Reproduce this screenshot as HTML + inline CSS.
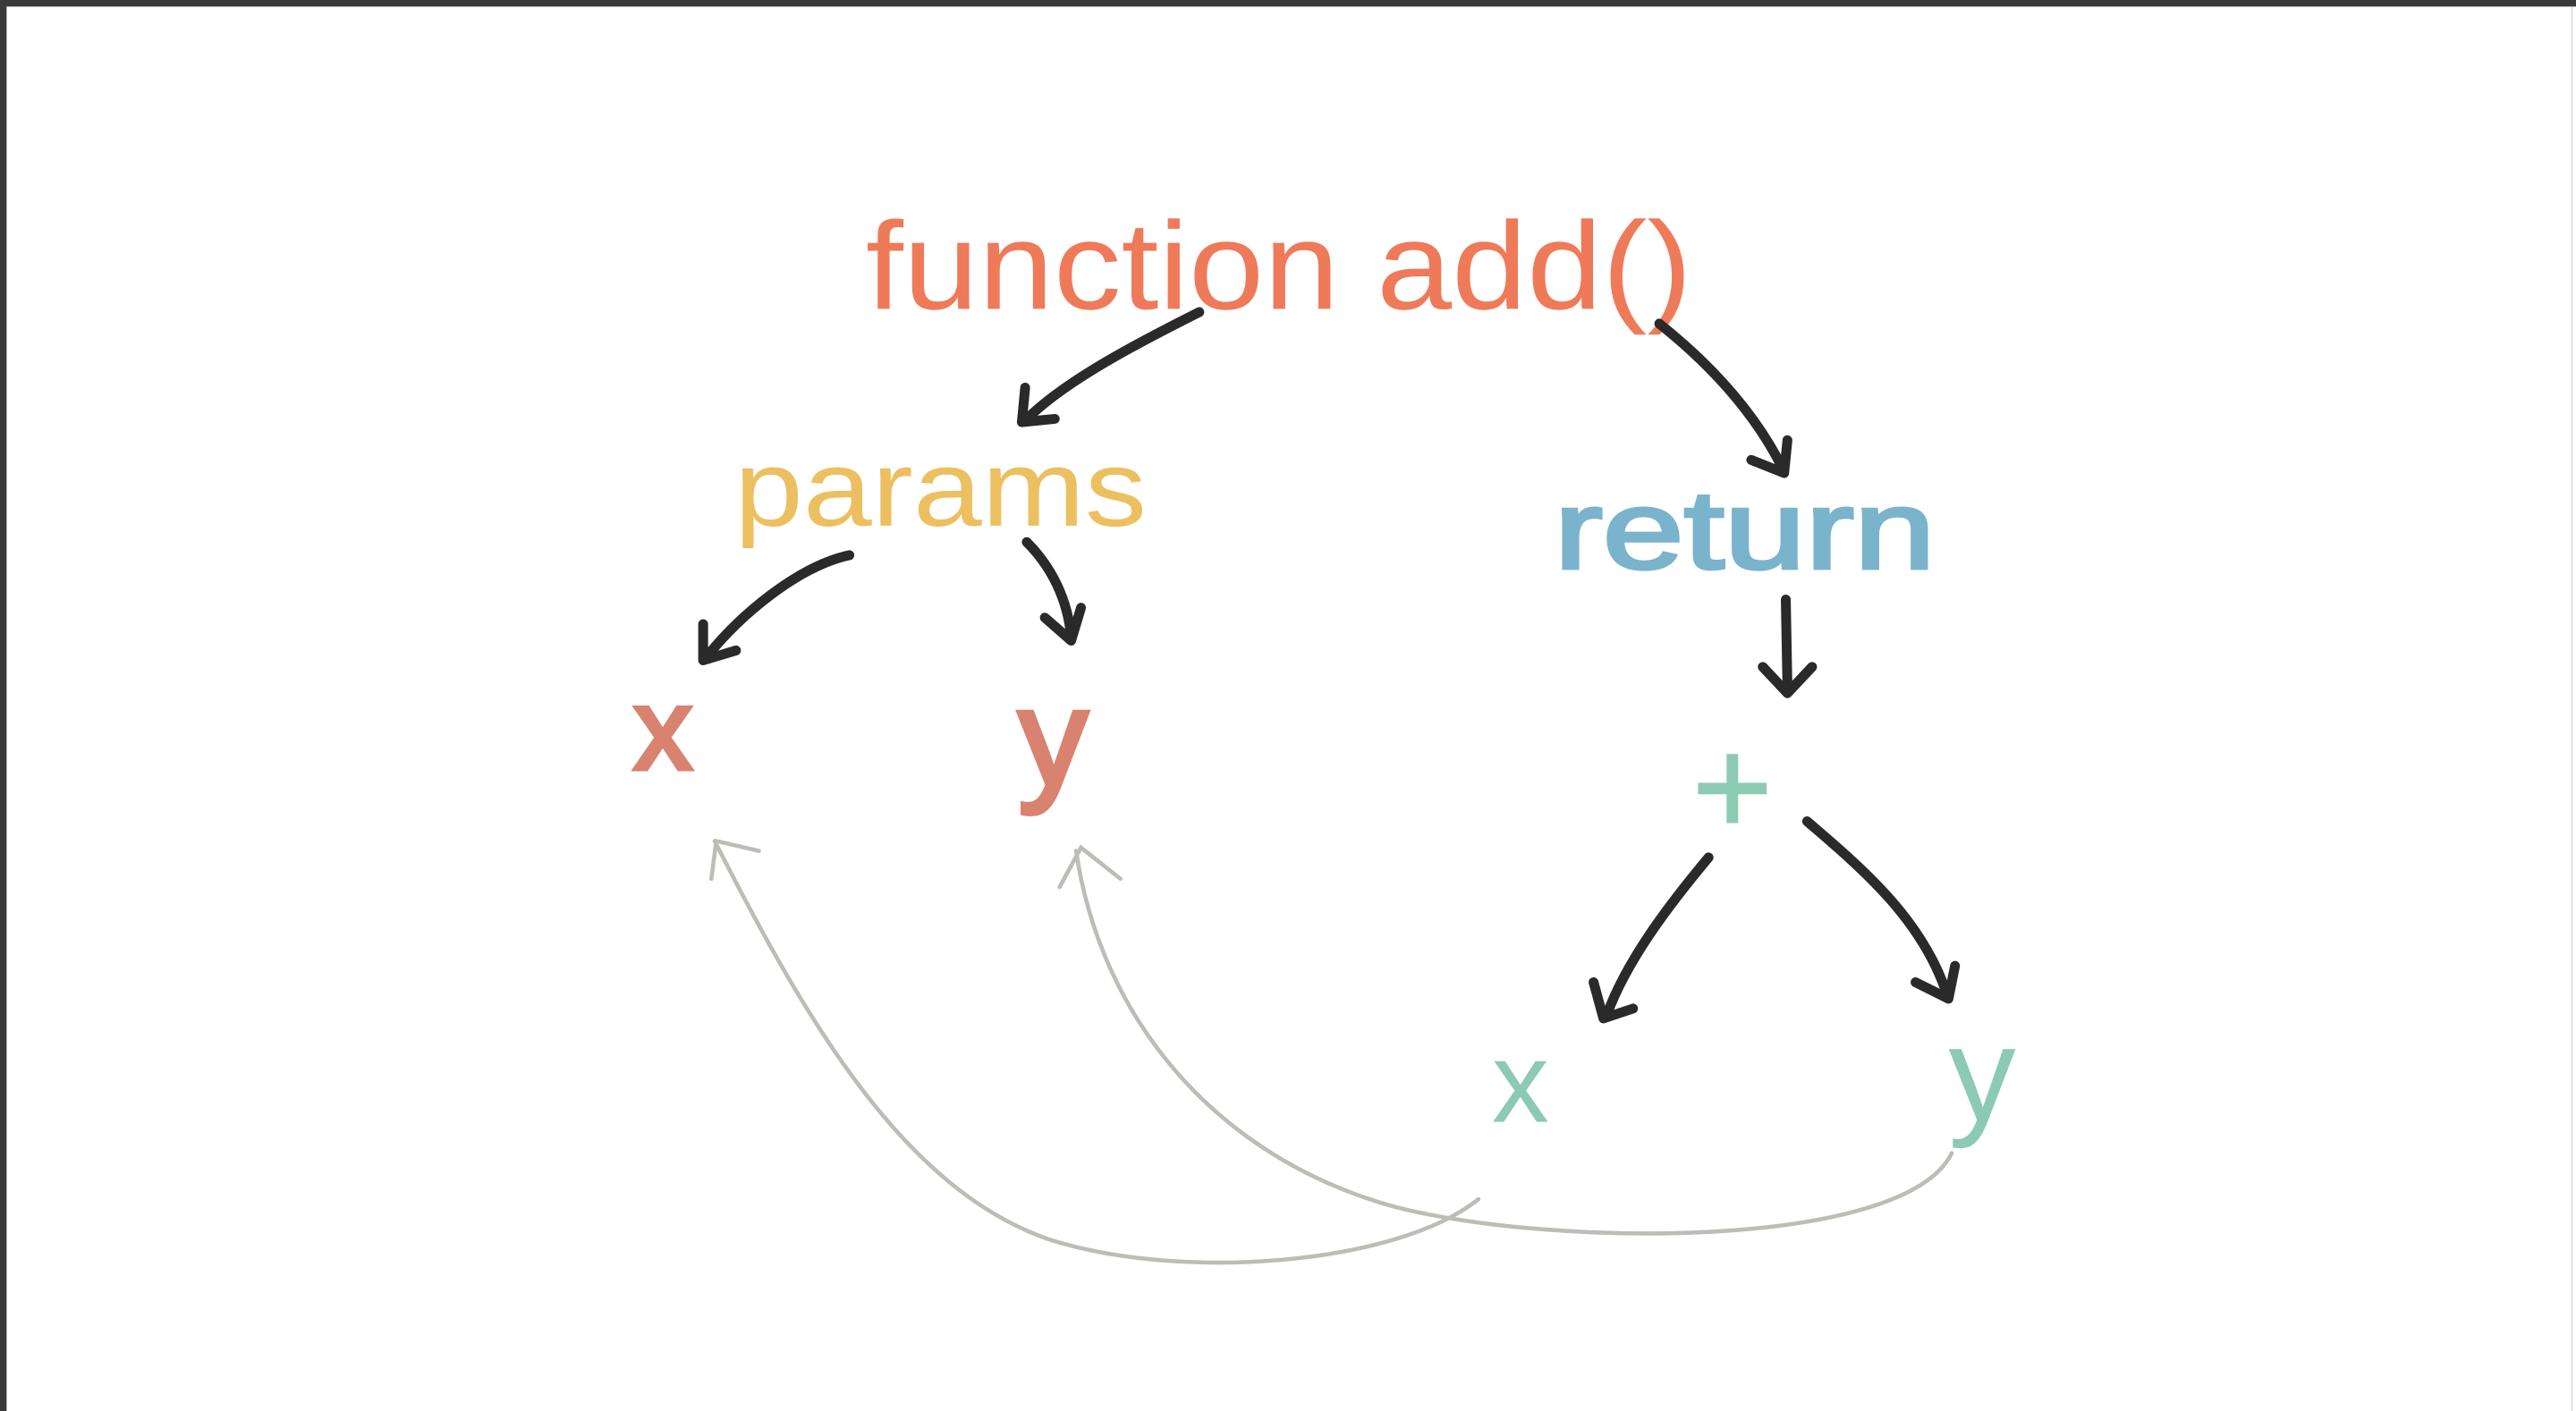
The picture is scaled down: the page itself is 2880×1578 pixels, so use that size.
<!DOCTYPE html>
<html><head><meta charset="utf-8"><style>
html,body{margin:0;padding:0;background:#fff;}
svg{display:block;}
text{font-family:"Liberation Sans",sans-serif;}
</style></head><body>
<svg width="2880" height="1578" viewBox="0 0 1568 859" preserveAspectRatio="none" xmlns="http://www.w3.org/2000/svg">
<rect x="0" y="0" width="1568" height="859" fill="#fff"/>
<rect x="0" y="0" width="1568" height="4" fill="#3a3a3a"/>
<rect x="0" y="0" width="4" height="859" fill="#3a3a3a"/>
<rect x="1565" y="4" width="1" height="855" fill="#ddd"/>

<text x="527" y="188" font-size="76" fill="#ef7a5a" textLength="503" lengthAdjust="spacingAndGlyphs">function add()</text>
<text x="447" y="320" font-size="66" fill="#ecc060" textLength="251" lengthAdjust="spacingAndGlyphs">params</text>
<text x="946" y="346" font-size="68" fill="#7ab3cc" textLength="232" lengthAdjust="spacingAndGlyphs" stroke="#7ab3cc" stroke-width="2">return</text>
<text x="386" y="468" font-size="70" fill="#d8826f" stroke="#d8826f" stroke-width="3">x</text>
<text x="620" y="478" font-size="84" fill="#d8826f" stroke="#d8826f" stroke-width="3">y</text>
<text x="1030" y="508" font-size="84" fill="#8ccab4" stroke="#8ccab4" stroke-width="1">+</text>
<text x="908" y="683" font-size="70" fill="#8ccab4">x</text>
<text x="1186" y="682" font-size="82" fill="#8ccab4">y</text>

<g fill="none" stroke="#2a2a2a" stroke-width="6" stroke-linecap="round" stroke-linejoin="round">
<path d="M730,190 C680,215 645,235 624,256"/><path d="M624,236 L622,257 L642,255"/>
<path d="M1010,197 C1045,225 1070,255 1085,285"/><path d="M1066,280 L1086,288 L1088,268"/>
<path d="M517,338 C485,345 450,375 430,400"/><path d="M428,380 L428,402 L448,396"/>
<path d="M625,330 C640,345 650,365 652,388"/><path d="M636,376 L652,390 L658,370"/>
<path d="M1087,365 L1088,418"/><path d="M1073,406 L1088,422 L1103,406"/>
<path d="M1040,522 C1015,552 990,585 978,618"/><path d="M970,598 L976,620 L994,614"/>
<path d="M1100,500 C1135,530 1170,560 1185,605"/><path d="M1166,598 L1186,608 L1190,588"/>
</g>
<g fill="none" stroke="#bdbcb6" stroke-width="2.5" stroke-linecap="round">
<path d="M900,730 C850,770 720,780 640,755 C550,725 490,620 435,512"/>
<path d="M462,518 L436,512 L433,535"/>
<path d="M1188,702 C1160,760 950,760 850,735 C740,705 670,620 655,518"/>
<path d="M682,535 L658,516 L645,540"/>
</g>
</svg>
</body></html>
